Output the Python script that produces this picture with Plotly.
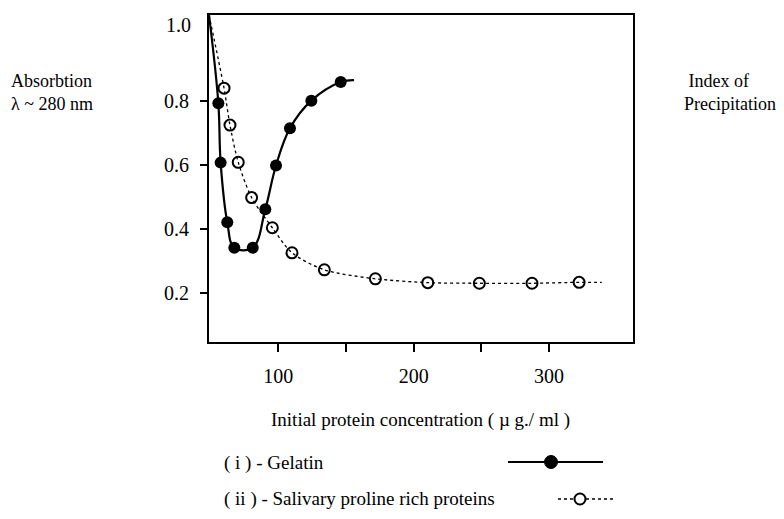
import plotly.graph_objects as go

# ---- data ----
gelatin_x = [55.7, 57.4, 62.3, 67.5, 81.1, 90.4, 98.3, 108.6, 124.4, 146.1]
gelatin_y = [0.792, 0.607, 0.421, 0.342, 0.342, 0.462, 0.598, 0.714, 0.800, 0.858]
gelatin_line_x = [48.8] + gelatin_x + [155.9]
gelatin_line_y = [1.067] + gelatin_y + [0.864]

saliva_x = [59.9, 64.3, 70.4, 80.3, 95.6, 110.1, 134.0, 171.7, 210.4, 248.5, 287.4, 322.2]
saliva_y = [0.839, 0.724, 0.608, 0.498, 0.404, 0.326, 0.273, 0.245, 0.233, 0.231, 0.231, 0.234]
saliva_line_x = [48.8] + saliva_x + [338.9]
saliva_line_y = [1.067] + saliva_y + [0.234]

x_tickvals = [100, 150, 200, 250, 300]
x_ticktext = ["100", "", "200", "", "300"]
y_tickvals = [0.2, 0.4, 0.6, 0.8]
y_ticktext = ["0.2", "0.4", "0.6", "0.8"]

FONT = "Liberation Serif"
W, H = 784, 519

def px(x):
    return x / W

def py(y):
    return 1 - y / H

fig = go.Figure()
fig.add_trace(go.Scatter(x=gelatin_line_x, y=gelatin_line_y, mode="lines",
                         line=dict(color="black", width=2.2, shape="spline", smoothing=1.1),
                         hoverinfo="skip", showlegend=False))
fig.add_trace(go.Scatter(x=gelatin_x, y=gelatin_y, mode="markers",
                         marker=dict(symbol="circle", size=12, color="black"),
                         name="(i) - Gelatin", showlegend=False))
fig.add_trace(go.Scatter(x=saliva_line_x, y=saliva_line_y, mode="lines",
                         line=dict(color="black", width=1.3, dash="3px,3px", shape="spline", smoothing=0.8),
                         hoverinfo="skip", showlegend=False))
fig.add_trace(go.Scatter(x=saliva_x, y=saliva_y, mode="markers",
                         marker=dict(symbol="circle-open", size=11, color="black", line=dict(width=2)),
                         name="(ii) - Salivary proline rich proteins", showlegend=False))

fig.update_layout(
    width=W, height=H,
    margin=dict(l=0, r=0, t=0, b=0),
    paper_bgcolor="white", plot_bgcolor="white",
    font=dict(family=FONT, size=18, color="black"),
    showlegend=False,
    xaxis=dict(domain=[209 / W, 633 / W], range=[48.8, 362], tickvals=x_tickvals, ticktext=x_ticktext,
               showgrid=False, zeroline=False, showline=True, linecolor="black", linewidth=2,
               mirror=True, ticks="outside", ticklen=8, tickwidth=1.5, tickcolor="black",
               ticklabelstandoff=7, tickfont=dict(family=FONT, size=20)),
    yaxis=dict(domain=[(H - 342) / H, (H - 15) / H], range=[0.048, 1.067], tickvals=y_tickvals,
               ticktext=y_ticktext, showgrid=False, zeroline=False, showline=True, linecolor="black",
               linewidth=2, mirror=True, ticks="outside", ticklen=7, tickwidth=1.5, tickcolor="black",
               ticklabelstandoff=7, tickfont=dict(family=FONT, size=20)),
)

ann = []
def text(s, x, y, xanchor="left", size=18):
    ann.append(dict(text=s, x=px(x), y=py(y), xref="paper", yref="paper", showarrow=False,
                    xanchor=xanchor, yanchor="middle", align="left",
                    font=dict(family=FONT, size=size, color="black")))

text("1.0", 178, 25, "center", 20)
text("Absorbtion<br>λ ~ 280 nm", 9, 93, "left", 18)
text("&nbsp;Index of<br>Precipitation", 682, 93, "left", 18)
text("Initial protein concentration ( µ g./ ml )", 420, 420, "center", 19)
text("( i ) - Gelatin", 222, 463, "left", 19)
text("( ii ) - Salivary proline rich proteins", 222, 499, "left", 19)
fig.update_layout(annotations=ann)

shapes = [
    dict(type="line", xref="paper", yref="paper", x0=px(508), x1=px(603), y0=py(462), y1=py(462),
         line=dict(color="black", width=2)),
    dict(type="circle", xref="paper", yref="paper", xsizemode="pixel", ysizemode="pixel",
         xanchor=px(551), yanchor=py(462), x0=-6.5, x1=6.5, y0=-6.5, y1=6.5,
         fillcolor="black", line=dict(color="black", width=1)),
    dict(type="line", xref="paper", yref="paper", x0=px(558), x1=px(574), y0=py(499), y1=py(499),
         line=dict(color="black", width=1.3, dash="3px,3px")),
    dict(type="line", xref="paper", yref="paper", x0=px(586), x1=px(613), y0=py(499), y1=py(499),
         line=dict(color="black", width=1.3, dash="3px,3px")),
    dict(type="circle", xref="paper", yref="paper", xsizemode="pixel", ysizemode="pixel",
         xanchor=px(580), yanchor=py(499), x0=-5.5, x1=5.5, y0=-5.5, y1=5.5,
         fillcolor="white", line=dict(color="black", width=2)),
]
fig.update_layout(shapes=shapes)

fig.write_html("out.html")
